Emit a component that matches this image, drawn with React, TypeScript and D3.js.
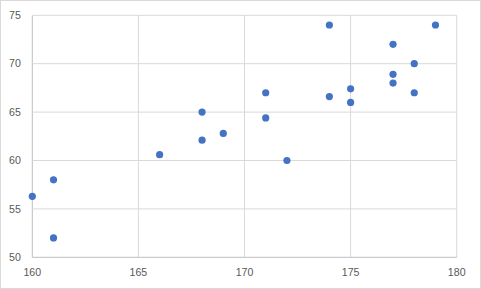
import React, { useEffect } from "react";
import * as d3 from "d3";

const heights = [168, 168, 169, 174, 179, 177, 178, 177, 177, 178, 171, 171, 174, 175, 175, 166, 161, 160, 161, 172];
const weights = [65, 62.1, 62.8, 74, 74, 72, 70, 68.9, 68, 67, 67, 64.4, 66.6, 67.4, 66, 60.6, 58, 56.3, 52, 60];
const xTicks = [160, 165, 170, 175, 180];
const yTicks = [50, 55, 60, 65, 70, 75];

const W = 481;
const H = 289;
const FONT = "'Liberation Sans', Arial, sans-serif";

export default function App() {
  useEffect(() => {
    document.body.style.margin = "0";
  }, []);

  const x = d3.scaleLinear().domain([160, 180]).range([32.3, 456.7]);
  const y = d3.scaleLinear().domain([50, 75]).range([257.3, 15.3]);
  const pts = heights.map((h, i) => ({ h, w: weights[i] }));

  return (
    <svg width={W} height={H} style={{ display: "block" }}>
      <rect x={0} y={0} width={W} height={H} fill="#fff" />
      <rect x={0.5} y={0.5} width={W - 1} height={H - 1} fill="none" stroke="#d9d9d9" />
      {xTicks.map((t) => (
        <line key={"gx" + t} x1={x(t)} x2={x(t)} y1={y(75)} y2={y(50)} stroke={t === 160 ? "#bfbfbf" : "#d9d9d9"} strokeWidth={1} />
      ))}
      {yTicks.map((t) => (
        <line key={"gy" + t} x1={x(160)} x2={x(180)} y1={y(t)} y2={y(t)} stroke={t === 50 ? "#bfbfbf" : "#d9d9d9"} strokeWidth={1} />
      ))}
      {yTicks.map((t) => (
        <text key={"ly" + t} x={20.8} y={y(t)} dy="0.35em" textAnchor="end" fontFamily={FONT} fontSize={10.6} fill="#595959">
          {t}
        </text>
      ))}
      {xTicks.map((t) => (
        <text key={"lx" + t} x={x(t)} y={272.5} dy="0.35em" textAnchor="middle" fontFamily={FONT} fontSize={10.6} fill="#595959">
          {t}
        </text>
      ))}
      {pts.map((p, i) => (
        <circle key={i} cx={x(p.h)} cy={y(p.w)} r={3.6} fill="#4472C4" />
      ))}
    </svg>
  );
}
